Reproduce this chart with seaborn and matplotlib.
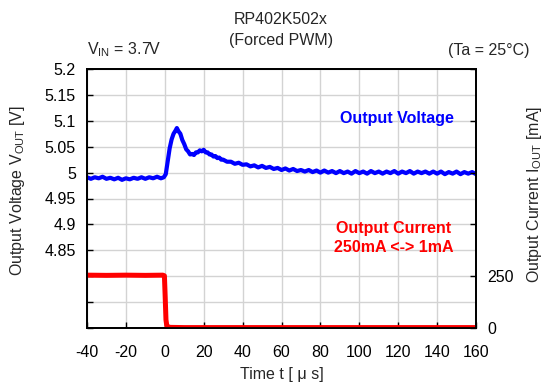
import matplotlib
matplotlib.use("Agg")
import matplotlib.pyplot as plt
import seaborn as sns
import pandas as pd

# voltage trace (time in us, volts)
v_time = [-40, -38, -36, -34, -32, -30, -28, -26, -24, -22, -20, -18, -16, -14,
          -12, -10, -8, -6, -4, -2, -0.5, 0.5, 1.5, 2.5, 3.5, 4.5, 5.5, 6.2,
          7, 8, 9, 10, 11, 12, 13, 14, 15, 16, 17, 18, 19, 20, 21, 22, 23, 24,
          25, 26, 27, 28, 29, 30, 32, 34, 36, 38, 40, 42, 44, 46, 48, 50, 52,
          54, 56, 58, 60, 62, 64, 66, 68, 70, 72, 74, 76, 78, 80, 82, 84, 86,
          88, 90, 92, 94, 96, 98, 100, 102, 104, 106, 108, 110, 112, 114, 116,
          118, 120, 122, 124, 126, 128, 130, 132, 134, 136, 138, 140, 142, 144,
          146, 148, 150, 152, 154, 156, 158, 160]
v_out = [4.991, 4.988, 4.991, 4.989, 4.992, 4.988, 4.990, 4.987, 4.990, 4.986,
         4.989, 4.987, 4.990, 4.988, 4.991, 4.988, 4.991, 4.989, 4.992, 4.989,
         4.991, 4.997, 5.022, 5.047, 5.064, 5.075, 5.081, 5.086,
         5.080, 5.075, 5.063, 5.055, 5.045, 5.041, 5.035, 5.036, 5.034, 5.039,
         5.039, 5.043, 5.041, 5.044, 5.039, 5.039, 5.035, 5.035,
         5.031, 5.032, 5.028, 5.029, 5.025, 5.025, 5.021, 5.021, 5.017, 5.019,
         5.015, 5.016, 5.012, 5.014, 5.010, 5.013, 5.009, 5.011, 5.007, 5.009,
         5.005, 5.008, 5.004, 5.007, 5.003, 5.005, 5.002, 5.005, 5.001, 5.004,
         5.000, 5.004, 5.000, 5.003, 4.999, 5.003, 4.999, 5.002, 4.998, 5.003,
         4.999, 5.002, 4.998, 5.003, 4.999, 5.002, 4.998, 5.002, 4.999, 5.003,
         4.998, 5.002, 4.999, 5.003, 4.998, 5.002, 4.999, 5.002, 4.998, 5.002,
         4.998, 5.002, 4.997, 5.001, 4.998, 5.002, 4.997, 5.001, 4.998, 5.001,
         4.997]

# load current trace (time in us, mA)
i_time = [-40, -30, -20, -10, -1, -0.2, 0.2, 0.6, 1.0, 1.5, 3, 10, 40, 80, 120, 160]
i_out = [255, 254, 255, 254, 255, 252, 150, 40, 12, 5, 3, 2, 2, 2, 2, 2]

x_ticks = list(range(-40, 161, 20))
v_ticks = [4.70, 4.75, 4.80, 4.85, 4.90, 4.95, 5.00, 5.05, 5.10, 5.15, 5.20]
v_labels = ["", "", "", "4.85", "4.9", "4.95", "5", "5.05", "5.1", "5.15", "5.2"]
i_ticks = [0, 250, 500, 750, 1000, 1250]
i_labels = ["0", "250", "", "", "", ""]

sns.set_style("whitegrid")
plt.rcParams["font.family"] = ["Liberation Sans", "DejaVu Sans"]
plt.rcParams["mathtext.fontset"] = "custom"
plt.rcParams["mathtext.rm"] = "Liberation Sans"
plt.rcParams["axes.unicode_minus"] = False
plt.rcParams["font.size"] = 11

volt = pd.DataFrame({"t": v_time, "v": v_out})
curr = pd.DataFrame({"t": i_time, "i": i_out})

fig = plt.figure(figsize=(5.45, 3.83), dpi=100)
ax = fig.add_axes([87 / 545, 55 / 383, 389 / 545, 259 / 383])
ax2 = ax.twinx()

sns.lineplot(data=volt, x="t", y="v", ax=ax, color="#0000ff", linewidth=3)
sns.lineplot(data=curr, x="t", y="i", ax=ax2, color="#ff0000", linewidth=3.6)

ax.set_xlim(-40, 160)
ax.set_ylim(4.7, 5.2)
ax2.set_ylim(0, 1250)
ax.set_xticks(x_ticks)
ax.set_yticks(v_ticks)
ax.set_yticklabels(v_labels)
ax2.set_yticks(i_ticks)
ax2.set_yticklabels(i_labels)
ax2.grid(False)
ax.grid(True, color="#d3d3d3", linewidth=1)

for a in (ax, ax2):
    a.set_xlabel("")
    a.set_ylabel("")
    for s in a.spines.values():
        s.set_color("black")
        s.set_linewidth(1.3)
    a.tick_params(direction="in", length=4, width=1, colors="black",
                  labelsize=11.5, pad=8)
ax.tick_params(axis="x", pad=12, bottom=True)
ax.tick_params(axis="y", left=True)
ax2.tick_params(axis="y", right=True)

ax.set_xlabel("Time t [ μ s]", fontsize=11.5, labelpad=5)

fig.text(18 / 545, 1 - 190 / 383, "Output Voltage V$_\\mathrm{OUT}$ [V]",
         rotation=90, ha="center", va="center", fontsize=11.5)
fig.text(535 / 545, 1 - 194 / 383, "Output Current I$_\\mathrm{OUT}$ [mA]",
         rotation=90, ha="center", va="center", fontsize=11.5)

fig.text(281 / 545, 1 - 20 / 383, "RP402K502x", ha="center", va="center", fontsize=11.5)
fig.text(281 / 545, 1 - 40 / 383, "(Forced PWM)", ha="center", va="center", fontsize=11.5)
fig.text(87 / 545, 1 - 50 / 383, "V$_\\mathrm{IN}$ = 3.7V", ha="left", va="center", fontsize=11.5)
fig.text(530 / 545, 1 - 50 / 383, "(Ta = 25°C)", ha="right", va="center", fontsize=11.5)

fig.text(397 / 545, 1 - 119 / 383, "Output Voltage", color="#0000ff",
         fontweight="bold", fontsize=11.5, ha="center", va="center")
fig.text(394 / 545, 1 - 228 / 383, "Output Current", color="#ff0000",
         fontweight="bold", fontsize=11.5, ha="center", va="center")
fig.text(394 / 545, 1 - 247 / 383, "250mA <-> 1mA", color="#ff0000",
         fontweight="bold", fontsize=11.5, ha="center", va="center")

fig.savefig("out.png", dpi=100)
